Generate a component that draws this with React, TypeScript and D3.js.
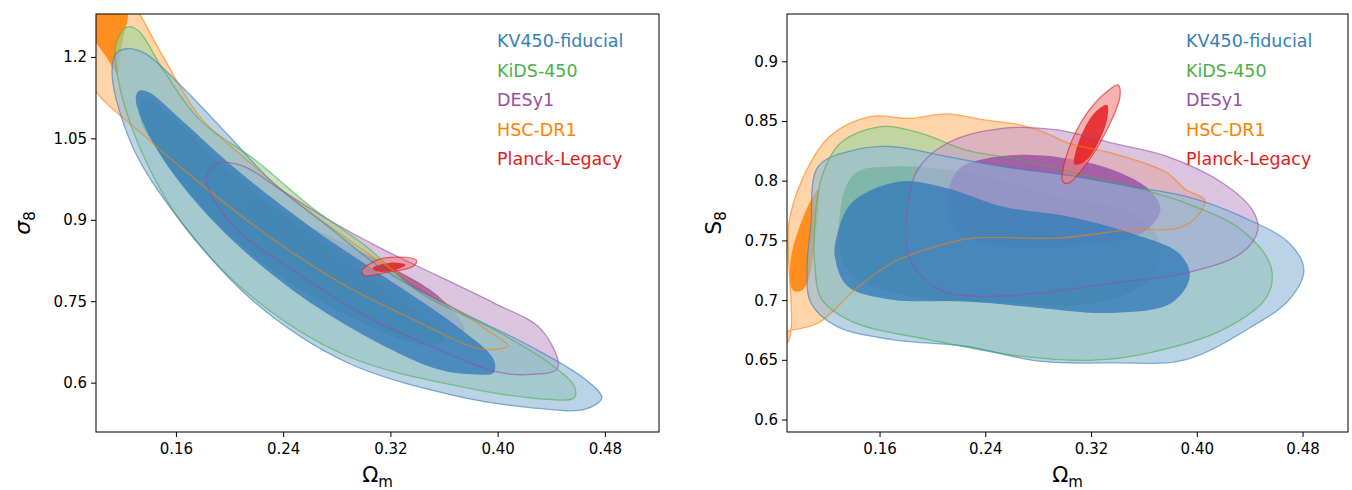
import * as d3 from "d3";

type Pt = [number, number];

const NAMES = ["KV450-fiducial", "KiDS-450", "DESy1", "HSC-DR1", "Planck-Legacy"];
const COLORS = ["#377eb8", "#4daf4a", "#984ea3", "#ff7f00", "#e41a1c"];
const X_TICKS = [0.16, 0.24, 0.32, 0.4, 0.48];
const SIG_TICKS = [0.6, 0.75, 0.9, 1.05, 1.2];
const S8_TICKS = [0.6, 0.65, 0.7, 0.75, 0.8, 0.85, 0.9];

// ---- left panel: Omega_m vs sigma_8 ----
const hscOuterL: Pt[] = [[0.12, 1.33], [0.1313, 1.286], [0.1504, 1.2], [0.1778, 1.09], [0.2106, 1.015], [0.2489, 0.936], [0.2872, 0.866], [0.32, 0.811], [0.3556, 0.756], [0.3911, 0.699], [0.4075, 0.668], [0.3966, 0.662], [0.3829, 0.665], [0.3419, 0.711], [0.2872, 0.778], [0.2325, 0.864], [0.1778, 0.968], [0.1368, 1.054], [0.1012, 1.133], [0.085, 1.2], [0.08, 1.33]];
const hscInnerL: Pt[] = [[0.1, 1.33], [0.1231, 1.286], [0.1203, 1.237], [0.1176, 1.195], [0.1162, 1.17], [0.108, 1.2], [0.095, 1.25], [0.09, 1.32]];
const kidsOuterL: Pt[] = [[0.1231, 1.256], [0.1313, 1.25], [0.1504, 1.176], [0.1778, 1.084], [0.2188, 1.011], [0.2598, 0.926], [0.3009, 0.853], [0.3419, 0.766], [0.3966, 0.699], [0.4376, 0.638], [0.4567, 0.595], [0.4567, 0.573], [0.4376, 0.57], [0.3692, 0.595], [0.2872, 0.65], [0.2188, 0.754], [0.1641, 0.895], [0.1313, 1.042], [0.1162, 1.164], [0.1149, 1.225]];
const kidsInnerL: Pt[] = [[0.137, 1.12], [0.152, 1.1], [0.19, 1.01], [0.24, 0.91], [0.29, 0.82], [0.34, 0.73], [0.36, 0.68], [0.345, 0.67], [0.3, 0.71], [0.245, 0.785], [0.19, 0.895], [0.15, 1.015], [0.133, 1.09]];
const kvOuterL: Pt[] = [[0.1231, 1.216], [0.1368, 1.207], [0.1641, 1.146], [0.1997, 1.054], [0.2325, 0.968], [0.2735, 0.888], [0.3145, 0.809], [0.3692, 0.735], [0.4239, 0.668], [0.465, 0.607], [0.4773, 0.573], [0.465, 0.552], [0.4239, 0.555], [0.3692, 0.576], [0.2872, 0.638], [0.2188, 0.748], [0.1641, 0.895], [0.1285, 1.029], [0.1121, 1.164], [0.1149, 1.207]];
const kvInnerL: Pt[] = [[0.1327, 1.139], [0.1395, 1.136], [0.1641, 1.084], [0.2051, 0.993], [0.2598, 0.888], [0.3145, 0.797], [0.3692, 0.705], [0.3966, 0.644], [0.3966, 0.619], [0.3829, 0.616], [0.3556, 0.625], [0.3009, 0.687], [0.2462, 0.772], [0.1915, 0.888], [0.1504, 1.011], [0.1313, 1.103], [0.1299, 1.13]];
const desOuterL: Pt[] = [[0.1915, 1.005], [0.2106, 0.999], [0.2379, 0.956], [0.2735, 0.901], [0.3145, 0.846], [0.3556, 0.797], [0.3966, 0.748], [0.4321, 0.699], [0.4444, 0.628], [0.4239, 0.616], [0.3966, 0.622], [0.3556, 0.662], [0.3009, 0.724], [0.2462, 0.809], [0.2051, 0.882], [0.1832, 0.962], [0.1832, 0.986]];
const desInnerL: Pt[] = [[0.2133, 0.934], [0.2243, 0.934], [0.2598, 0.888], [0.3145, 0.821], [0.3556, 0.76], [0.3747, 0.699], [0.3692, 0.69], [0.3419, 0.711], [0.2872, 0.772], [0.2325, 0.852], [0.2133, 0.907]];
const planckOuterL: Pt[] = [[0.2981, 0.806], [0.3091, 0.826], [0.3255, 0.832], [0.3391, 0.826], [0.3364, 0.815], [0.3145, 0.803], [0.3009, 0.798]];
const planckInnerL: Pt[] = [[0.3063, 0.812], [0.32, 0.822], [0.3309, 0.818], [0.3227, 0.808], [0.3091, 0.806]];

// ---- right panel: Omega_m vs S_8 ----
const hscOuterR: Pt[] = [[0.075, 0.665], [0.0896, 0.6646], [0.091, 0.7649], [0.1021, 0.8039], [0.1216, 0.8373], [0.1522, 0.8541], [0.1828, 0.8527], [0.2107, 0.8563], [0.2385, 0.8513], [0.2663, 0.8471], [0.2858, 0.8401], [0.3025, 0.8318], [0.3359, 0.8234], [0.3637, 0.8137], [0.3776, 0.8067], [0.3915, 0.7928], [0.4055, 0.7844], [0.3999, 0.7705], [0.386, 0.7607], [0.3498, 0.7593], [0.2941, 0.7524], [0.2301, 0.7524], [0.2023, 0.7454], [0.1689, 0.7315], [0.1411, 0.7092], [0.1132, 0.6813], [0.075, 0.67]];
const hscInnerR: Pt[] = [[0.0938, 0.7092], [0.0924, 0.7343], [0.1021, 0.7705], [0.1132, 0.7928], [0.1105, 0.7482], [0.1049, 0.7148], [0.0993, 0.7078]];
const kidsOuterR: Pt[] = [[0.1105, 0.7621], [0.116, 0.8039], [0.1299, 0.8318], [0.1606, 0.8457], [0.1912, 0.8401], [0.2246, 0.8262], [0.2663, 0.8178], [0.3081, 0.8067], [0.3498, 0.7955], [0.3915, 0.7816], [0.4333, 0.7593], [0.4556, 0.7287], [0.4528, 0.7036], [0.4194, 0.6757], [0.3637, 0.6563], [0.322, 0.6501], [0.2663, 0.6535], [0.1967, 0.6674], [0.1411, 0.6813], [0.116, 0.7008], [0.1105, 0.7315]];
const kidsInnerR: Pt[] = [[0.1299, 0.776], [0.1411, 0.8067], [0.1689, 0.8123], [0.2107, 0.8095], [0.2524, 0.8011], [0.2941, 0.7872], [0.3498, 0.7733], [0.3721, 0.7482], [0.3637, 0.7175], [0.322, 0.698], [0.2524, 0.698], [0.1828, 0.7036], [0.1355, 0.7259]];
const kvOuterR: Pt[] = [[0.1077, 0.7621], [0.1132, 0.8123], [0.1411, 0.8262], [0.1689, 0.829], [0.2107, 0.8206], [0.2524, 0.8123], [0.3081, 0.8039], [0.3498, 0.7955], [0.3915, 0.7872], [0.4333, 0.7705], [0.4695, 0.7482], [0.4806, 0.7259], [0.4695, 0.7008], [0.4416, 0.6785], [0.3915, 0.6507], [0.3359, 0.6479], [0.2802, 0.6493], [0.2246, 0.6618], [0.1689, 0.6674], [0.1272, 0.6785], [0.1077, 0.698], [0.1049, 0.7315]];
const kvInnerR: Pt[] = [[0.1272, 0.7538], [0.1383, 0.7816], [0.1745, 0.7997], [0.2107, 0.7941], [0.2524, 0.7788], [0.3025, 0.7705], [0.3498, 0.7565], [0.386, 0.7398], [0.3943, 0.7203], [0.3804, 0.698], [0.3359, 0.6897], [0.2802, 0.6939], [0.2246, 0.6994], [0.1689, 0.7008], [0.1355, 0.712], [0.1258, 0.737]];
const desOuterR: Pt[] = [[0.18, 0.7705], [0.1884, 0.8095], [0.2107, 0.8318], [0.2524, 0.8443], [0.2941, 0.8429], [0.3359, 0.8318], [0.3776, 0.8206], [0.4194, 0.7983], [0.4416, 0.776], [0.4458, 0.7593], [0.4333, 0.7398], [0.3915, 0.7231], [0.3359, 0.7148], [0.2802, 0.7064], [0.2385, 0.7036], [0.2051, 0.7092], [0.1828, 0.7343]];
const desInnerR: Pt[] = [[0.2107, 0.7816], [0.219, 0.8095], [0.2413, 0.8192], [0.2747, 0.822], [0.3081, 0.8178], [0.3359, 0.8095], [0.3637, 0.7928], [0.3721, 0.776], [0.3582, 0.7565], [0.322, 0.7482], [0.2802, 0.744], [0.2385, 0.7482], [0.2162, 0.7593]];
const planckOuterR: Pt[] = [[0.2983, 0.7997], [0.3025, 0.8262], [0.3164, 0.8568], [0.3331, 0.8763], [0.3401, 0.8805], [0.3415, 0.8708], [0.3303, 0.8401], [0.3164, 0.815], [0.3025, 0.7983]];
const planckInnerR: Pt[] = [[0.3067, 0.815], [0.3108, 0.8345], [0.322, 0.8568], [0.3317, 0.8638], [0.3317, 0.8513], [0.3248, 0.8318], [0.3164, 0.8178], [0.3081, 0.8137]];

type Layer = { outer: Pt[]; inner: Pt[]; color: string };
const leftLayers: Layer[] = [
  { outer: hscOuterL, inner: hscInnerL, color: COLORS[3] },
  { outer: desOuterL, inner: desInnerL, color: COLORS[2] },
  { outer: kidsOuterL, inner: kidsInnerL, color: COLORS[1] },
  { outer: kvOuterL, inner: kvInnerL, color: COLORS[0] },
  { outer: planckOuterL, inner: planckInnerL, color: COLORS[4] },
];
const rightLayers: Layer[] = [
  { outer: hscOuterR, inner: hscInnerR, color: COLORS[3] },
  { outer: kidsOuterR, inner: kidsInnerR, color: COLORS[1] },
  { outer: desOuterR, inner: desInnerR, color: COLORS[2] },
  { outer: kvOuterR, inner: kvInnerR, color: COLORS[0] },
  { outer: planckOuterR, inner: planckInnerR, color: COLORS[4] },
];

const FONT = "DejaVu Sans, sans-serif";

type PanelProps = {
  id: string;
  x0: number;
  x1: number;
  xDomain: [number, number];
  yDomain: [number, number];
  yTicks: number[];
  layers: Layer[];
  yLabel: string;
};

const TOP = 14;
const BOTTOM = 432;

const light = (c: string) => d3.interpolateRgb(c, "#ffffff")(0.45);

const Panel = ({ id, x0, x1, xDomain, yDomain, yTicks, layers, yLabel }: PanelProps) => {
  const x = d3.scaleLinear().domain(xDomain).range([x0, x1]);
  const y = d3.scaleLinear().domain(yDomain).range([BOTTOM, TOP]);
  const line = d3
    .line<Pt>()
    .x((d) => x(d[0]))
    .y((d) => y(d[1]))
    .curve(d3.curveCatmullRomClosed.alpha(0.5));
  return (
    <g>
      <defs>
        <clipPath id={id}>
          <rect x={x0} y={TOP} width={x1 - x0} height={BOTTOM - TOP} />
        </clipPath>
      </defs>
      <g clipPath={`url(#${id})`}>
        {layers.map((l, i) => (
          <g key={i}>
            <path d={line(l.outer)!} fill={light(l.color)} fillOpacity={0.62} />
            <path d={line(l.inner)!} fill={l.color} fillOpacity={0.82} />
          </g>
        ))}
        {layers.map((l, i) => (
          <path key={"s" + i} d={line(l.outer)!} fill="none" stroke={l.color} strokeOpacity={0.6} strokeWidth={1.3} />
        ))}
      </g>
      <rect x={x0} y={TOP} width={x1 - x0} height={BOTTOM - TOP} fill="none" stroke="#000" strokeWidth={1} />
      {X_TICKS.map((t) => (
        <g key={t}>
          <line x1={x(t)} x2={x(t)} y1={BOTTOM} y2={BOTTOM + 5} stroke="#000" />
          <text x={x(t)} y={BOTTOM + 22} textAnchor="middle" fontSize={15} fontFamily={FONT}>
            {t.toFixed(2)}
          </text>
        </g>
      ))}
      {yTicks.map((t) => (
        <g key={t}>
          <line x1={x0 - 5} x2={x0} y1={y(t)} y2={y(t)} stroke="#000" />
          <text x={x0 - 9} y={y(t) + 5} textAnchor="end" fontSize={15} fontFamily={FONT}>
            {String(t)}
          </text>
        </g>
      ))}
      <text x={(x0 + x1) / 2} y={BOTTOM + 50} textAnchor="middle" fontSize={21} fontFamily={FONT}>
        Ω<tspan fontSize={15} dy={5}>m</tspan>
      </text>
      <text transform={`translate(${x0 - 66},${(TOP + BOTTOM) / 2}) rotate(-90)`} textAnchor="middle" fontSize={22} fontFamily={FONT} fontStyle={yLabel === "sigma" ? "italic" : "normal"}>
        {yLabel === "sigma" ? "σ" : "S"}
        <tspan fontSize={15} dy={5} fontStyle="normal">8</tspan>
      </text>
      {NAMES.map((n, i) => (
        <text key={n} x={x1 - 162} y={47 + i * 29.5} fontSize={17.5} fontFamily={FONT} fill={COLORS[i]}>
          {n}
        </text>
      ))}
    </g>
  );
};

const App = () => (
  <svg width={1352} height={490} style={{ position: "absolute", left: 0, top: 0, background: "#fff" }}>
    <Panel id="cl" x0={96} x1={659} xDomain={[0.1, 0.52]} yDomain={[0.51, 1.28]} yTicks={SIG_TICKS} layers={leftLayers} yLabel="sigma" />
    <Panel id="cr" x0={787} x1={1348} xDomain={[0.0896, 0.514]} yDomain={[0.59, 0.94]} yTicks={S8_TICKS} layers={rightLayers} yLabel="S" />
  </svg>
);

export default App;
